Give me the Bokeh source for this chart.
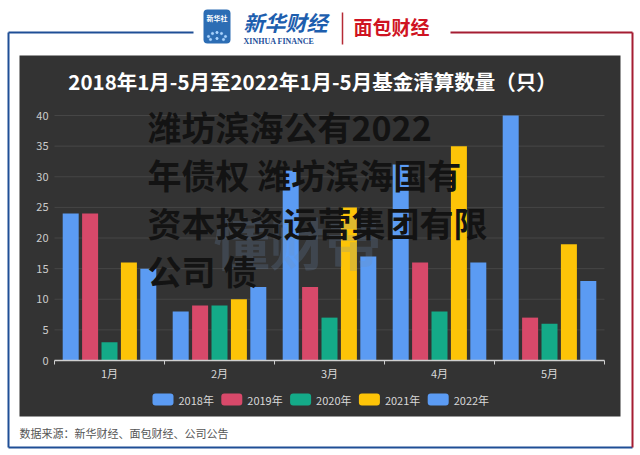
from bokeh.plotting import figure
from bokeh.models import Range1d, ColumnDataSource
from bokeh.transform import dodge
from bokeh.core.properties import value
from bokeh.embed import file_html
from bokeh.resources import INLINE

# ---------------- data ----------------
months = ["1月", "2月", "3月", "4月", "5月"]
years = ["2018年", "2019年", "2020年", "2021年", "2022年"]
v2018 = [24, 8, 31, 32, 40]
v2019 = [24, 9, 12, 16, 7]
v2020 = [3, 9, 7, 8, 6]
v2021 = [16, 10, 25, 35, 19]
v2022 = [15, 12, 17, 16, 13]
y_ticks = [0, 5, 10, 15, 20, 25, 30, 35, 40]
title_text = "2018年1月-5月至2022年1月-5月基金清算数量（只）"
source_note = "数据来源：新华财经、面包财经、公司公告"
overlay_lines = ["潍坊滨海公有2022", "年债权 潍坊滨海国有", "资本投资运营集团有限", "公司 债"]
watermark = "懂财帝"

series = [v2018, v2019, v2020, v2021, v2022]
colors = ["#5b9bf3", "#d8496a", "#14aa88", "#fdc408", "#5b9bf3"]

# ---------------- layout ----------------
W, H = 640, 455
PL, PR = 54, 604          # plot area left/right (px)
Y0, YTOP = 360, 115       # pixel rows of value 0 and value 40
VMAX = 40
ppu = (Y0 - YTOP) / VMAX
cat_w = (PR - PL) / len(months)
FONT = value("Noto Sans CJK SC")

p = figure(width=W, height=H, x_range=Range1d(0, W), y_range=Range1d(H, 0),
           min_border=0, toolbar_location=None, output_backend="svg",
           x_axis_location=None, y_axis_location=None,
           background_fill_color="white", border_fill_color="white",
           outline_line_color=None)
p.grid.grid_line_color = None
p.extra_x_ranges = {"cat": Range1d((0 - PL) / cat_w - 0.5, (W - PL) / cat_w - 0.5)}
p.extra_y_ranges = {"val": Range1d(-(H - Y0) / ppu, Y0 / ppu)}

# ---------------- frame & header ----------------
BLUE, RED = "#1f4f96", "#a51d32"
p.segment(x0=[8, 8, 8], y0=[32, 32, 447], x1=[193, 8, 632], y1=[32, 447, 447],
          line_color=BLUE, line_width=2)
p.segment(x0=[450, 632], y0=[32, 32], x1=[632, 632], y1=[32, 447],
          line_color=RED, line_width=2)

p.quad(left=203, right=230, top=9, bottom=43, fill_color="#2c6db4",
       line_color=None, border_radius=4)
p.text(x=[216.5], y=[17], text=["新华社"], text_font=FONT, text_font_size="7px",
       text_font_style="bold", text_color="white", text_align="center",
       text_baseline="middle")
p.scatter(x=[208, 212, 216.5, 221, 225, 210, 216.5, 223],
          y=[36, 33, 32, 33, 36, 39, 38, 39], size=2.2, color="#a9d3ff")
p.text(x=[243], y=[21], text=["新华财经"], text_font=FONT, text_font_size="21px",
       text_font_style="bold italic", text_color="#1d5eae", text_align="left",
       text_baseline="middle")
p.text(x=[243], y=[41], text=["XINHUA FINANCE"], text_font=value("Liberation Serif"),
       text_font_size="8px", text_font_style="bold", text_color="#1d4f9a",
       text_align="left", text_baseline="middle")
p.segment(x0=[342], y0=[12], x1=[342], y1=[44], line_color="#b52a35", line_width=1.5)
p.text(x=[353], y=[26], text=["面包财经"], text_font=FONT, text_font_size="19px",
       text_font_style="bold", text_color="#cf1322", text_align="left",
       text_baseline="middle")

# ---------------- dark panel ----------------
p.quad(left=19, right=620, top=55, bottom=416, fill_color="#333333", line_color=None)
p.text(x=[312], y=[80.5], text=[title_text], text_font=FONT, text_font_size="20.5px",
       text_font_style="bold", text_color="#ffffff", text_align="center",
       text_baseline="middle")

# gridlines and y labels
grid_vals = y_ticks[1:]
p.segment(x0=[-0.5] * len(grid_vals), x1=[len(months) - 0.5] * len(grid_vals),
          y0=grid_vals, y1=grid_vals, line_color="#464646", line_width=1,
          x_range_name="cat", y_range_name="val")
p.text(x=[-0.5] * len(y_ticks), y=y_ticks, text=[str(t) for t in y_ticks],
       x_offset=-6, text_font=FONT, text_font_size="11px", text_color="#cccccc",
       text_align="right", text_baseline="middle",
       x_range_name="cat", y_range_name="val")

# bars
idx = list(range(len(months)))
src = ColumnDataSource(dict(idx=idx, months=months, v2018=v2018, v2019=v2019,
                            v2020=v2020, v2021=v2021, v2022=v2022))
bar_w = 16 / cat_w
step = 19.4 / cat_w
for k, (name, col) in enumerate(zip(["v2018", "v2019", "v2020", "v2021", "v2022"], colors)):
    p.vbar(x=dodge("idx", (k - 2) * step), top=name, bottom=0, width=bar_w,
           source=src, fill_color=col, line_color=None,
           x_range_name="cat", y_range_name="val")

# x axis
n = len(months)
p.segment(x0=[-0.5], x1=[n - 0.5], y0=[0], y1=[0], line_color="#cfcfcf",
          line_width=1.5, x_range_name="cat", y_range_name="val")
bounds = [i - 0.5 for i in range(n + 1)]
p.segment(x0=bounds, x1=bounds, y0=[0] * len(bounds), y1=[-4 / ppu] * len(bounds),
          line_color="#cfcfcf", line_width=1, x_range_name="cat", y_range_name="val")
p.text(x="idx", y=0, text="months", source=src, y_offset=12, text_font=FONT,
       text_font_size="11px", text_color="#d8d8d8", text_align="center",
       text_baseline="middle", x_range_name="cat", y_range_name="val")

# watermark
p.text(x=[213], y=[240], text=[watermark], text_font=FONT, text_font_size="56px",
       text_font_style="bold", text_color="#6d8fb8", text_alpha=0.22,
       text_align="left", text_baseline="middle")

# overlay text
p.text(x=[147] * len(overlay_lines), y=[126 + 48 * i for i in range(len(overlay_lines))],
       text=overlay_lines, text_font=FONT, text_font_size="34px",
       text_font_style="bold", text_color="#131313", text_align="left",
       text_baseline="middle")

# legend
lx = [152 + 68.8 * i for i in range(len(years))]
p.rect(x=[x + 10.5 for x in lx], y=[399] * len(years), width=21, height=12,
       fill_color=colors, line_color=None, border_radius=3)
p.text(x=[x + 26 for x in lx], y=[399] * len(years), text=years, text_font=FONT,
       text_font_size="11px", text_color="#d8d8d8", text_align="left",
       text_baseline="middle")

# source note
p.text(x=[19], y=[432], text=[source_note], text_font=FONT, text_font_size="11px",
       text_color="#555555", text_align="left", text_baseline="middle")

open("out.html", "w").write(file_html(p, INLINE))
